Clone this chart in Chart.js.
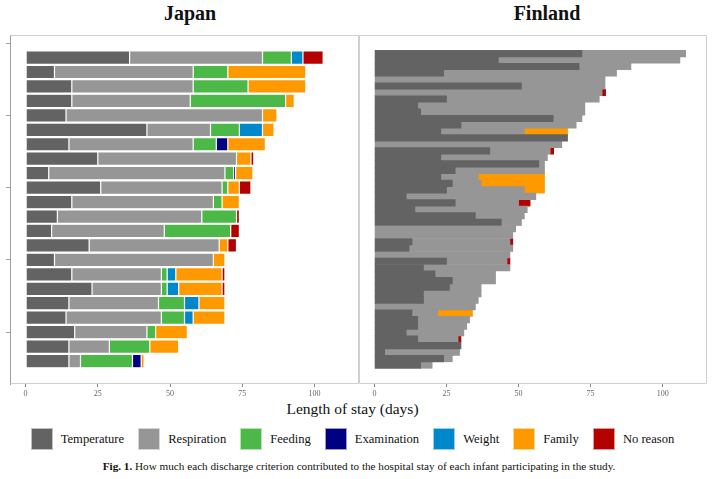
<!DOCTYPE html>
<html>
<head>
<meta charset="utf-8">
<script src="https://cdn.jsdelivr.net/npm/chart.js@4.4.1/dist/chart.umd.min.js"></script>
<style>
  body { margin: 0; background: #fff; width: 720px; height: 479px; overflow: hidden; position: relative; font-family: "Liberation Serif", serif; color: #111; }
  #japan-wrap { position: absolute; left: 0; top: 0; width: 362px; height: 400px; }
  #finland-wrap { position: absolute; left: 356px; top: 0; width: 354px; height: 400px; }
  .panel-title { position: absolute; top: 2px; width: 200px; text-align: center; font-size: 20px; font-weight: bold; }
  #x-title { position: absolute; top: 400px; left: 0; width: 705px; text-align: center; font-size: 15.5px; }
  #legend { position: absolute; top: 428px; left: 0; width: 705px; display: flex; justify-content: center; }
  .legend-item { display: flex; align-items: center; margin: 0 7px; font-size: 12.6px; }
  .legend-box { width: 22px; height: 22px; margin-right: 8px; box-sizing: border-box; border: 1px solid rgba(255,255,255,0.6); }
  #caption { position: absolute; top: 460px; left: 0; width: 718px; text-align: center; font-size: 11.2px; }
</style>
</head>
<body>
<div class="panel-title" style="left: 90px;">Japan</div>
<div class="panel-title" style="left: 447px;">Finland</div>
<div id="japan-wrap"><canvas id="japan"></canvas></div>
<div id="finland-wrap"><canvas id="finland"></canvas></div>
<div id="x-title">Length of stay (days)</div>
<div id="legend"></div>
<div id="caption"><b>Fig. 1.</b> How much each discharge criterion contributed to the hospital stay of each infant participating in the study.</div>
<script>
(function() {
  window.addEventListener("load", main);

  const CRITERIA = ["Temperature", "Respiration", "Feeding", "Examination", "Weight", "Family", "No reason"];
  const COLORS = ["#636363", "#969696", "#4cb848", "#000080", "#0088cc", "#ff9900", "#b50000"];
  const X_TICKS = [0, 25, 50, 75, 100];

  // Japan, one value per infant (top to bottom), days
  const japanTemperature = [36, 10, 16, 16, 14, 42, 15, 25, 8, 26, 16, 11, 9, 22, 10, 16, 23, 15, 14, 17, 15, 15];
  const japanRespiration = [46, 48, 42, 41, 68, 22, 43, 48, 61, 42, 49, 50, 39, 45, 55, 31, 24, 31, 33, 25, 14, 4];
  const japanFeeding =     [10, 12, 19, 33, 0, 10, 8, 0, 3, 2, 3, 12, 23, 0, 0, 2, 2, 9, 8, 3, 14, 18];
  const japanExamination = [0, 0, 0, 0, 0, 0, 4, 0, 0.7, 0, 0, 0, 0, 0, 0, 0, 0, 0, 0, 0, 0, 3];
  const japanWeight =      [4, 0, 0, 0, 0, 8, 0, 0, 0, 0, 0, 0, 0, 0, 0, 3, 4, 5, 3, 0, 0, 0];
  const japanFamily =      [0, 27, 20, 3, 5, 4, 13, 5, 6, 4, 6, 0, 0, 3, 4, 16, 15, 9, 11, 11, 10, 1];
  const japanNoReason =    [7, 0, 0, 0, 0, 0, 0, 1, 0, 4, 0, 1, 3, 3, 0, 1, 1, 0, 0, 0, 0, 0];

  // Finland, one value per infant (top to bottom), days
  const finlandTemperature = [72, 43, 71, 24, 0, 51, 0, 25, 15, 16, 62, 30, 23, 67, 0, 40, 23, 57, 28, 23, 27, 25, 11, 28, 14,
    35, 44, 0, 0, 13, 12, 0, 25, 17, 21, 27, 26, 17, 17, 0, 13, 15, 15, 11, 15, 30, 3.5, 24, 16];
  const finlandRespiration = [36, 63, 18, 60, 80, 29, 79, 53, 58, 57, 10, 40, 29, 0, 65, 21, 37, 2, 31, 13, 10, 27, 45, 22, 39,
    17, 7, 49, 48, 34, 36, 47, 21, 30, 21, 15, 11, 20, 19, 35, 9, 18, 17, 20, 14, 0, 26, 3, 4];
  const finlandFeeding = new Array(49).fill(0);
  const finlandExamination = new Array(49).fill(0);
  const finlandWeight = new Array(49).fill(0);
  const finlandFamily = [0, 0, 0, 0, 0, 0, 0, 0, 0, 0, 0, 0, 15, 0, 0, 0, 0, 0, 0, 23, 22, 7, 0, 0, 0,
    0, 0, 0, 0, 0, 0, 0, 0, 0, 0, 0, 0, 0, 0, 0, 12, 0, 0, 0, 0, 0, 0, 0, 0];
  const finlandNoReason = [0, 0, 0, 0, 0, 0, 1.2, 0, 0, 0, 0, 0, 0, 0, 0, 1.2, 0, 0, 0, 0, 0, 0, 0, 4, 0,
    0, 0, 0, 0, 1, 0, 0, 1, 0, 0, 0, 0, 0, 0, 0, 0, 0, 0, 0, 1, 0, 0, 0, 0];

  // light frame round each panel; the Finland one skips its left side (shared divider)
  const panelBox = {
    id: "panelBox",
    afterDraw(chart, args, opts) {
      let a = chart.chartArea;
      let ctx = chart.ctx;
      let l = Math.round(a.left) + 0.5;
      let r = Math.round(a.right) - 0.5;
      let t = Math.round(a.top) + 0.5;
      let b = Math.round(a.bottom) - 0.5;
      ctx.save();
      ctx.strokeStyle = "#cfcfcf";
      ctx.lineWidth = 1;
      ctx.beginPath();
      ctx.moveTo(l, t);
      ctx.lineTo(r, t);
      ctx.lineTo(r, b);
      ctx.lineTo(l, b);
      if (opts.leftSide) {
        ctx.lineTo(l, t);
      }
      ctx.stroke();
      ctx.restore();
    }
  };

  function main() {
    buildLegend();
    let japan = [japanTemperature, japanRespiration, japanFeeding, japanExamination, japanWeight, japanFamily, japanNoReason];
    let finland = [finlandTemperature, finlandRespiration, finlandFeeding, finlandExamination, finlandWeight, finlandFamily, finlandNoReason];
    // 22 infants: 14.45 px per row, 15 px of space above and below the bars
    makeChart("japan", japan, -0.56, 23.59, 0.93, true);
    // 49 infants, rows touch each other
    makeChart("finland", finland, -1.86, 51.92, 1, false);
  }

  function makeDatasets(series, barPct, outlined) {
    let sets = [];
    for (let i = 0; i < series.length; i++) {
      let points = [];
      for (let j = 0; j < series[i].length; j++) {
        if (series[i][j] > 0) {
          points.push({x: series[i][j], y: j + 1});
        }
      }
      sets.push({
        label: CRITERIA[i],
        data: points,
        backgroundColor: COLORS[i],
        borderColor: "rgba(255,255,255,0.55)",
        borderWidth: outlined ? 0.6 : 0,
        borderSkipped: false,
        barPercentage: barPct,
        categoryPercentage: 1
      });
    }
    return sets;
  }

  function makeChart(id, series, yMin, yMax, barPct, leftAxis) {
    let ctx = document.getElementById(id).getContext("2d");
    return new Chart(ctx, {
      type: "bar",
      data: { datasets: makeDatasets(series, barPct, leftAxis) },
      plugins: [panelBox],
      options: {
        indexAxis: "y",
        responsive: true,
        maintainAspectRatio: false,
        animation: false,
        layout: { padding: { top: 35, right: 3, bottom: 0, left: 0 } },
        plugins: {
          legend: { display: false },
          tooltip: { enabled: false },
          panelBox: { leftSide: !leftAxis }
        },
        scales: {
          x: {
            type: "linear",
            stacked: true,
            min: -5.4,
            max: 115.4,
            afterBuildTicks: function(axis) {
              axis.ticks = X_TICKS.map(function(v) { return {value: v}; });
            },
            afterFit: function(axis) { axis.height = 16; },
            grid: { drawOnChartArea: false, tickLength: 3, color: "#888" },
            border: { display: false },
            ticks: {
              color: "#666",
              padding: 2,
              font: { family: "Liberation Serif", size: 8 }
            }
          },
          y: {
            type: "linear",
            stacked: true,
            reverse: true,
            offset: false,
            min: yMin,
            max: yMax,
            afterFit: function(axis) { axis.width = leftAxis ? 10 : 3; },
            grid: { display: leftAxis, offset: false, drawOnChartArea: false, tickLength: 4, color: "#a0a0a0" },
            border: { display: leftAxis, color: "#a0a0a0", width: 1 },
            ticks: { display: false, stepSize: 5, includeBounds: false }
          }
        }
      }
    });
  }

  function buildLegend() {
    let legend = document.getElementById("legend");
    for (let i = 0; i < CRITERIA.length; i++) {
      let item = document.createElement("div");
      item.classList.add("legend-item");
      let box = document.createElement("div");
      box.classList.add("legend-box");
      box.style.background = COLORS[i];
      let label = document.createElement("span");
      label.textContent = CRITERIA[i];
      item.appendChild(box);
      item.appendChild(label);
      legend.appendChild(item);
    }
  }
})();
</script>
</body>
</html>
